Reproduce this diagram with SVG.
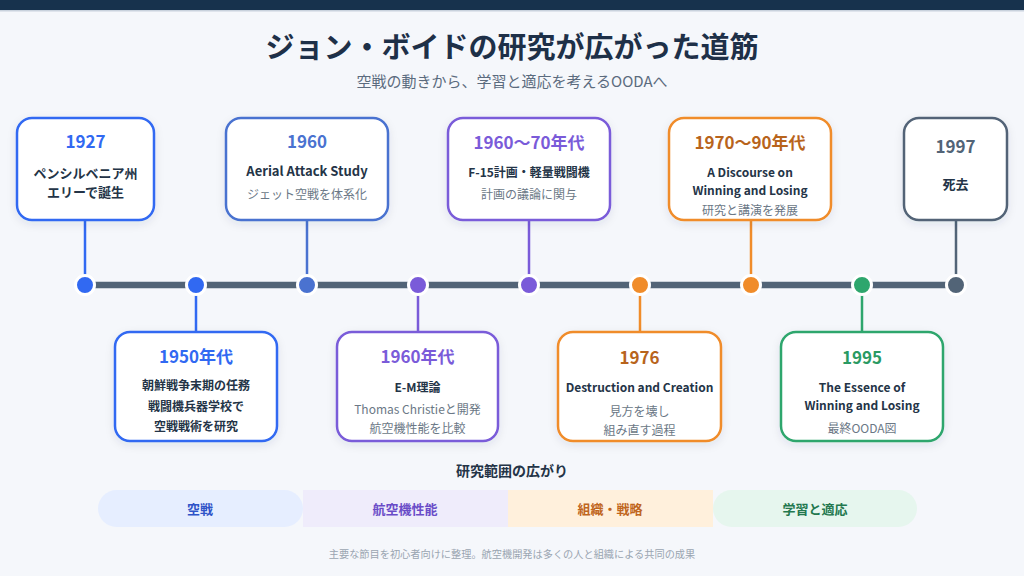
<svg xmlns="http://www.w3.org/2000/svg" width="1024" height="576" viewBox="0 0 1024 576">
<defs>
<filter id="sh" x="-20%" y="-20%" width="140%" height="150%">
<feDropShadow dx="0" dy="3" stdDeviation="4" flood-color="#1e3048" flood-opacity="0.09"/>
</filter>
<style>
text{font-family:"Noto Sans CJK JP","Noto Sans",sans-serif;text-anchor:middle;dominant-baseline:central}
.card{fill:#ffffff;stroke-width:2.5;filter:url(#sh)}
.yr{font-size:17px;font-weight:700}
.b{font-size:13px;font-weight:700;fill:#243447}
.bs{font-size:12px;font-weight:700;fill:#243447}
.g{font-size:12px;fill:#6b7886}
.conn line{stroke-width:2.5}
.conn line.axis{stroke-width:6.5}
.dot{stroke:#ffffff;stroke-width:3}
.band{font-size:13px;font-weight:700}
</style>
</defs>
<rect width="1024" height="576" fill="#f5f7fb"/>
<rect width="1024" height="10" fill="#17324d"/>
<rect y="10" width="1024" height="1.5" fill="#c9d2dd"/>
<text x="512" y="45" font-size="29" font-weight="700" fill="#1e3048">ジョン・ボイドの研究が広がった道筋</text>
<text x="512" y="80" font-size="15" fill="#5b6b7e">空戦の動きから、学習と適応を考えるOODAへ</text>

<g id="connectors" class="conn">
<line x1="85" y1="220" x2="85" y2="278" stroke="#3169f2"/>
<line x1="307" y1="220" x2="307" y2="278" stroke="#4a72d0"/>
<line x1="529" y1="220" x2="529" y2="278" stroke="#7a5bd9"/>
<line x1="751" y1="220" x2="751" y2="278" stroke="#f08c2a"/>
<line x1="956" y1="220" x2="956" y2="278" stroke="#526477"/>
<line x1="196" y1="290" x2="196" y2="332" stroke="#3169f2"/>
<line x1="418" y1="290" x2="418" y2="332" stroke="#7a5bd9"/>
<line x1="640" y1="290" x2="640" y2="332" stroke="#f08c2a"/>
<line x1="862" y1="290" x2="862" y2="332" stroke="#2ea66d"/>
<line class="axis" x1="85" y1="285" x2="956" y2="285" stroke="#526477"/>
</g>

<g id="dots">
<circle class="dot" cx="85" cy="285" r="9.5" fill="#3169f2"/>
<circle class="dot" cx="196" cy="285" r="9.5" fill="#3169f2"/>
<circle class="dot" cx="307" cy="285" r="9.5" fill="#4a72d0"/>
<circle class="dot" cx="418" cy="285" r="9.5" fill="#7a5bd9"/>
<circle class="dot" cx="529" cy="285" r="9.5" fill="#7a5bd9"/>
<circle class="dot" cx="640" cy="285" r="9.5" fill="#f08c2a"/>
<circle class="dot" cx="751" cy="285" r="9.5" fill="#f08c2a"/>
<circle class="dot" cx="862" cy="285" r="9.5" fill="#2ea66d"/>
<circle class="dot" cx="956" cy="285" r="9.5" fill="#526477"/>
</g>

<g id="n1927">
<rect class="card" x="17" y="118" width="137" height="102" rx="15" stroke="#3169f2"/>
<text class="yr" x="85.5" y="140" fill="#3169f2">1927</text>
<text class="b" x="85.5" y="172">ペンシルベニア州</text>
<text class="b" x="85.5" y="191">エリーで誕生</text>
</g>
<g id="n1960">
<rect class="card" x="226" y="118" width="162" height="102" rx="15" stroke="#4a72d0"/>
<text class="yr" x="307" y="140" fill="#4a72d0">1960</text>
<text class="b" x="307" y="170">Aerial Attack Study</text>
<text class="g" x="307" y="193">ジェット空戦を体系化</text>
</g>
<g id="n1960s70s">
<rect class="card" x="448" y="118" width="162" height="102" rx="15" stroke="#7a5bd9"/>
<text class="yr" x="529" y="141" fill="#7a5bd9">1960〜70年代</text>
<text class="bs" x="529" y="171">F-15計画・軽量戦闘機</text>
<text class="g" x="529" y="193">計画の議論に関与</text>
</g>
<g id="n1970s90s">
<rect class="card" x="669" y="118" width="162" height="102" rx="15" stroke="#f08c2a"/>
<text class="yr" x="750" y="141" fill="#b8641c">1970〜90年代</text>
<text class="bs" x="750" y="171">A Discourse on</text>
<text class="bs" x="750" y="189">Winning and Losing</text>
<text class="g" x="750" y="209" font-size="11">研究と講演を発展</text>
</g>
<g id="n1997">
<rect class="card" x="904" y="118" width="103" height="102" rx="15" stroke="#526477"/>
<text class="yr" x="955.5" y="145" fill="#526477" font-weight="500">1997</text>
<text class="b" x="955.5" y="183" font-size="15">死去</text>
</g>

<g id="n1950s">
<rect class="card" x="115" y="332" width="162" height="109" rx="15" stroke="#3169f2"/>
<text class="yr" x="196" y="355" fill="#3169f2">1950年代</text>
<text class="bs" x="196" y="384">朝鮮戦争末期の任務</text>
<text class="bs" x="196" y="405">戦闘機兵器学校で</text>
<text class="bs" x="196" y="425">空戦戦術を研究</text>
</g>
<g id="n1960s">
<rect class="card" x="337" y="332" width="161" height="109" rx="15" stroke="#7a5bd9"/>
<text class="yr" x="417.5" y="355" fill="#7a5bd9">1960年代</text>
<text class="bs" x="417.5" y="386">E-M理論</text>
<text class="g" x="417.5" y="408">Thomas Christieと開発</text>
<text class="g" x="417.5" y="427">航空機性能を比較</text>
</g>
<g id="n1976">
<rect class="card" x="558" y="332" width="163" height="109" rx="15" stroke="#f08c2a"/>
<text class="yr" x="639.5" y="356" fill="#b8641c">1976</text>
<text class="bs" x="639.5" y="386">Destruction and Creation</text>
<text class="g" x="639.5" y="410" font-size="13">見方を壊し</text>
<text class="g" x="639.5" y="429" font-size="13">組み直す過程</text>
</g>
<g id="n1995">
<rect class="card" x="781" y="332" width="162" height="109" rx="15" stroke="#2ea66d"/>
<text class="yr" x="862" y="356" fill="#2a9a63">1995</text>
<text class="bs" x="862" y="386">The Essence of</text>
<text class="bs" x="862" y="404">Winning and Losing</text>
<text class="g" x="862" y="427">最終OODA図</text>
</g>

<g id="scope">
<text x="512" y="470" font-size="14" font-weight="700" fill="#243447">研究範囲の広がり</text>
<rect x="98" y="490" width="205" height="37" rx="18.5" fill="#e6eeff"/>
<rect x="303" y="490" width="205" height="37" fill="#efecfb"/>
<rect x="508" y="490" width="205" height="37" fill="#fff0dc"/>
<rect x="713" y="490" width="204" height="37" rx="18.5" fill="#e6f6ee"/>
<text class="band" x="200" y="508.5" fill="#2f54c8">空戦</text>
<text class="band" x="405" y="508.5" fill="#6a4cc8">航空機性能</text>
<text class="band" x="610" y="508.5" fill="#c0661e">組織・戦略</text>
<text class="band" x="815" y="508.5" fill="#23784f">学習と適応</text>
</g>

<text x="512" y="553" font-size="10.2" fill="#9aa5b1">主要な節目を初心者向けに整理。航空機開発は多くの人と組織による共同の成果</text>
</svg>
